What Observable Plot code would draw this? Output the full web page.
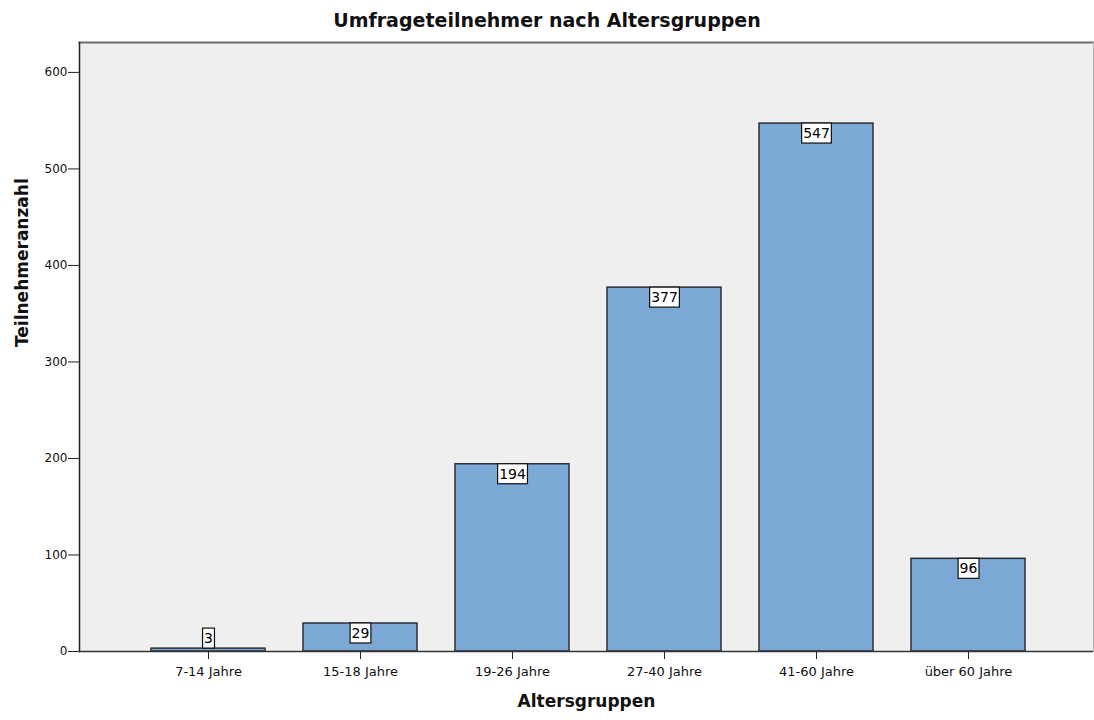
<!DOCTYPE html>
<html>
<head>
<meta charset="utf-8">
<script src="https://cdn.jsdelivr.net/npm/d3@7"></script>
<script src="https://cdn.jsdelivr.net/npm/@observablehq/plot@0.6"></script>
<style>
  body { margin: 0; background: #fff; font-family: "DejaVu Sans", sans-serif; }
  #title { height: 28px; padding-top: 8px; line-height: 24px; text-align: center;
           font-weight: bold; font-size: 19px; color: #111; }
  #chart svg { display: block; }
</style>
</head>
<body>
<div id="title">Umfrageteilnehmer nach Altersgruppen</div>
<div id="chart"></div>
<script>
// Survey participants per age group
const groups = ["7-14 Jahre", "15-18 Jahre", "19-26 Jahre", "27-40 Jahre", "41-60 Jahre", "über 60 Jahre"];
const counts = [3, 29, 194, 377, 547, 96];
const yTicks = [0, 100, 200, 300, 400, 500, 600];

const data = groups.map((group, i) => ({group, count: counts[i]}));

const chart = Plot.plot({
  width: 1094,
  height: 684,
  marginTop: 6,
  marginLeft: 79,
  marginRight: 1,
  marginBottom: 69,
  style: {fontFamily: "DejaVu Sans, sans-serif", color: "#111", background: "#fff"},
  x: {domain: groups, paddingInner: 0.25, paddingOuter: 0.125, insetLeft: 51, insetRight: 48},
  y: {domain: [0, 631], ticks: yTicks},
  marks: [
    Plot.frame({fill: "#efefef"}),
    Plot.frame({anchor: "top", stroke: "#6e6e6e", strokeWidth: 2}),
    Plot.frame({anchor: "right", stroke: "#b5b5b5", strokeWidth: 1}),
    Plot.frame({anchor: "left", stroke: "#222", strokeWidth: 1.5}),
    Plot.barY(data, {x: "group", y: "count", fill: "#7ba8d5", stroke: "#2b2f36", strokeWidth: 1.5}),
    Plot.ruleY([0], {stroke: "#333", strokeWidth: 1.5}),
    // value labels: inside the top of the bar, or just above it when the bar is too short
    Plot.text(data, {filter: d => d.count >= 25, x: "group", y: "count", text: d => String(d.count),
      dy: 10, fontSize: 14, fill: "#000", ariaDescription: "bar-values"}),
    Plot.text(data, {filter: d => d.count < 25, x: "group", y: "count", text: d => String(d.count),
      dy: -10, fontSize: 14, fill: "#000", ariaDescription: "bar-values"}),
    Plot.axisX({tickSize: 8, tickPadding: 7, fontSize: 13, label: null, stroke: "#222"}),
    Plot.axisY({ticks: yTicks, tickSize: 11, tickPadding: 1, fontSize: 12, label: null, stroke: "#222"}),
    Plot.text(["Altersgruppen"], {frameAnchor: "bottom", dy: 55, fontSize: 17, fontWeight: "bold", fill: "#111"}),
    Plot.text(["Teilnehmeranzahl"], {frameAnchor: "left", dx: -57, rotate: -90, fontSize: 17, fontWeight: "bold", fill: "#111"})
  ]
});

document.getElementById("chart").append(chart);

// white boxes behind the value labels
chart.querySelectorAll('[aria-description="bar-values"]').forEach(g => {
  g.querySelectorAll("text").forEach(t => {
    const bb = t.getBBox();
    const r = document.createElementNS("http://www.w3.org/2000/svg", "rect");
    r.setAttribute("x", bb.x - 1.5);
    r.setAttribute("y", bb.y + bb.height / 2 - 10);
    r.setAttribute("width", bb.width + 3);
    r.setAttribute("height", 20);
    r.setAttribute("fill", "#fff");
    r.setAttribute("stroke", "#111");
    r.setAttribute("stroke-width", 1.2);
    if (t.getAttribute("transform")) r.setAttribute("transform", t.getAttribute("transform"));
    t.parentNode.insertBefore(r, t);
  });
});
</script>
</body>
</html>
